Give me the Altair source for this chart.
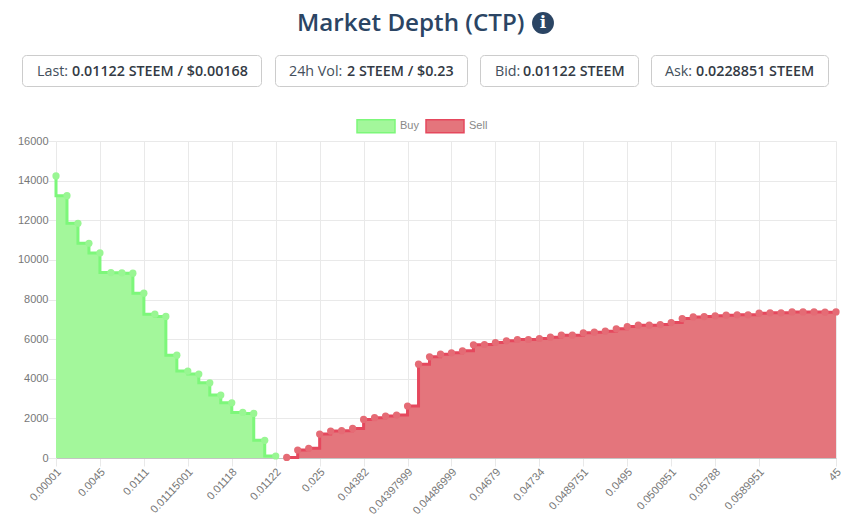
import altair as alt
import pandas as pd

buy_values = [14235, 13242, 11848, 10840, 10352, 9361, 9345, 9327, 8319, 7260, 7143,
              5191, 4385, 4234, 3797, 3175, 2789, 2302, 2251, 890, 100]
sell_values = [30, 403, 487, 1210, 1361, 1378, 1495, 1949, 2033, 2117, 2167, 2621, 4738,
               5107, 5242, 5309, 5410, 5712, 5729, 5830, 5914, 5981, 5981, 6031, 6098,
               6199, 6200, 6317, 6350, 6401, 6518, 6636, 6703, 6703, 6737, 6838, 7039,
               7123, 7140, 7174, 7207, 7224, 7224, 7308, 7325, 7325, 7375, 7375, 7375,
               7358, 7375]
tick_positions = [0, 4, 8, 12, 16, 20, 24, 28, 32, 36, 40, 44, 48, 52, 56, 60, 64, 71]
tick_labels = ["0.00001", "0.0045", "0.0111", "0.01115001", "0.01118", "0.01122", "0.025",
               "0.04382", "0.04397999", "0.04486999", "0.04679", "0.04734", "0.0489751",
               "0.0495", "0.0500851", "0.05788", "0.0589951", "45"]
y_ticks = list(range(0, 16001, 2000))
sides = ["Buy", "Sell"]
title_text = "Market Depth (CTP)"
stats = [
    ("Last:", "0.01122 STEEM / $0.00168"),
    ("24h Vol:", "2 STEEM / $0.23"),
    ("Bid:", "0.01122 STEEM"),
    ("Ask:", "0.0228851 STEEM"),
]

FONT = "Liberation Sans"
HEAD = "Open Sans"
PL, PT = 56, 141

buy = pd.DataFrame({"i": range(len(buy_values)), "v": buy_values, "side": "Buy"})
sell = pd.DataFrame({"i": range(len(buy_values), len(buy_values) + len(sell_values)),
                     "v": sell_values, "side": "Sell"})

x_enc = alt.X("i:Q", scale=alt.Scale(domain=[0, 71], nice=False, zero=False), title=None,
              axis=alt.Axis(values=tick_positions,
                            labelExpr="%s[indexof(%s, datum.value)]" % (tick_labels, tick_positions),
                            labelAngle=-47, labelAlign="right", labelBaseline="middle",
                            labelFont=FONT, labelFontSize=11, labelColor="#777777",
                            labelPadding=4, labelOffset=3, labelOverlap=False, labelBound=False,
                            labelFlush=False,
                            gridColor="#e9e9e9", gridWidth=1, tickColor="#e9e9e9", tickSize=8,
                            domainColor="#c4c4c4", domainWidth=1))
y_enc = alt.Y("v:Q", scale=alt.Scale(domain=[0, 16000], nice=False), title=None,
              axis=alt.Axis(values=y_ticks, format="d", labelFont=FONT, labelFontSize=11, labelColor="#777777",
                            labelPadding=0, gridColor="#e9e9e9", gridWidth=1, tickColor="#e9e9e9",
                            tickSize=8, domain=False))

legend_opts = dict(orient="none", legendX=300, legendY=-35, direction="horizontal", title=None,
                   symbolType="M-1,-0.34H1V0.34H-1Z", symbolSize=1444, symbolStrokeWidth=1.5,
                   symbolOpacity=1, labelFont=FONT, labelFontSize=11, labelColor="#888888",
                   labelOffset=4, columnPadding=4)
fill_enc = alt.Fill("side:N", scale=alt.Scale(domain=sides, range=["#a3f79b", "#e4757c"]),
                    legend=alt.Legend(**legend_opts))
stroke_enc = alt.Stroke("side:N", scale=alt.Scale(domain=sides, range=["#7df77a", "#e5485d"]),
                        legend=alt.Legend(**legend_opts))


def series(df, interp, point_color):
    base = alt.Chart(df)
    return [
        base.mark_area(interpolate=interp, opacity=1).encode(x=x_enc, y=y_enc, fill=fill_enc),
        base.mark_line(interpolate=interp, strokeWidth=3).encode(x=x_enc, y=y_enc, stroke=stroke_enc),
        base.mark_point(filled=True, size=52, color=point_color, opacity=1).encode(x=x_enc, y=y_enc),
    ]


def one(text):
    return alt.Chart(pd.DataFrame({"t": [text]}))


layers = series(buy, "step-before", "#99f693") + series(sell, "step-after", "#e56b75")

# Page furniture above the plot: heading, info badge and stat boxes.
layers.append(one(title_text).mark_text(font=HEAD, fontSize=24.2, fontWeight=600, color="#2b4564",
                                        align="left", baseline="middle")
              .encode(text="t:N", x=alt.value(297 - PL), y=alt.value(24 - PT)))
layers.append(one("i").mark_circle(size=480, color="#2b4564", opacity=1)
              .encode(x=alt.value(543 - PL), y=alt.value(23 - PT)))
layers.append(one("i").mark_text(font="DejaVu Serif", fontSize=17, fontWeight="bold", color="#ffffff",
                                 align="center", baseline="middle")
              .encode(text="t:N", x=alt.value(543 - PL), y=alt.value(23 - PT)))

box_edges = [(22, 262), (275, 468), (480, 639), (651, 829)]
label_starts = [37, 289, 495, 665]
value_starts = [72, 347, 523, 696]
for (label, value), (x0, x1), lx, vx in zip(stats, box_edges, label_starts, value_starts):
    layers.append(one(label).mark_rect(fill="#ffffff", stroke="#cccccc", strokeWidth=1, cornerRadius=4)
                  .encode(x=alt.value(x0 + 0.5 - PL), x2=alt.value(x1 - 0.5 - PL),
                          y=alt.value(55.5 - PT), y2=alt.value(86.5 - PT)))
    layers.append(one(label).mark_text(font=HEAD, fontSize=14.3, color="#444f5c", align="left", baseline="middle")
                  .encode(text="t:N", x=alt.value(lx - PL), y=alt.value(72 - PT)))
    layers.append(one(value).mark_text(font=HEAD, fontSize=14.3, fontWeight=600, color="#333a44", align="left", baseline="middle")
                  .encode(text="t:N", x=alt.value(vx - PL), y=alt.value(72 - PT)))

chart = alt.layer(*layers).properties(
    width=780, height=317,
    autosize=alt.AutoSizeParams(type="none"),
    padding={"left": 48, "top": 133, "right": 20, "bottom": 60},
).configure_view(stroke=None)

chart.save("out.html", embed_options={"renderer": "svg", "actions": False})
